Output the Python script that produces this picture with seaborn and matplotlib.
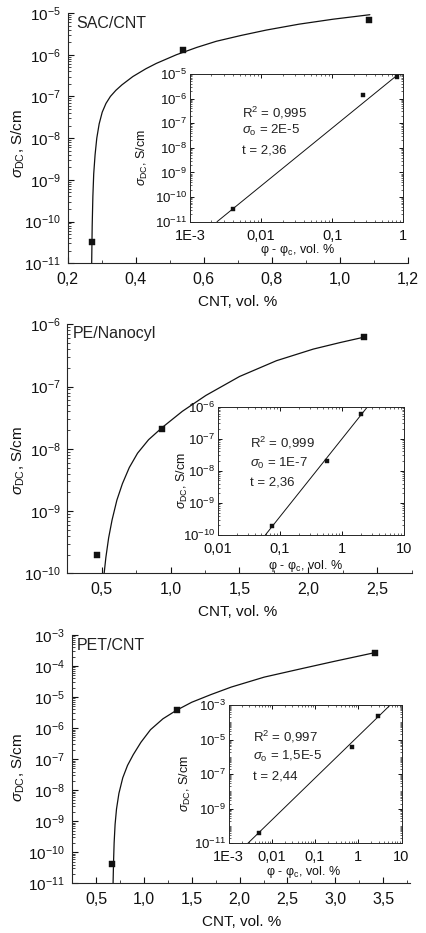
import numpy as np
import pandas as pd
import matplotlib
matplotlib.use("Agg")
import matplotlib.pyplot as plt
import matplotlib.ticker as mticker
import seaborn as sns

# ---------- data ----------
# SAC/CNT
sac_x = [0.271, 0.54, 1.086]
sac_y = [3.2e-11, 1.3e-6, 6.7e-6]
sac_fit_x = [0.271, 0.2725, 0.2745, 0.277, 0.281, 0.286, 0.293, 0.302, 0.313, 0.326, 0.342,
             0.36, 0.392, 0.43, 0.461, 0.52, 0.58, 0.637, 0.71, 0.784, 0.88, 0.98, 1.088]
sac_fit_y = [1e-11, 7.9e-11, 4e-10, 1.4e-9, 4e-9, 1e-8, 2.2e-8, 4.2e-8, 6.8e-8, 1e-7, 1.4e-7,
             1.9e-7, 3e-7, 4.6e-7, 6.2e-7, 1e-6, 1.5e-6, 2.1e-6, 2.9e-6, 3.9e-6, 5.4e-6, 7.1e-6, 9.1e-6]
sac_in_x = [0.004, 0.27, 0.82]
sac_in_y = [3.2e-11, 1.4e-6, 7.4e-6]
sac_in_line_x = [0.0024, 0.86]
sac_in_line_y = [1e-11, 1e-5]
sac_text = ["R$^2$ = 0,995", "$\\sigma_{\\mathrm{o}}$ = 2E-5", "t = 2,36"]

# PE/Nanocyl
pe_x = [0.463, 0.939, 2.402]
pe_y = [2.0e-10, 2.1e-8, 6.2e-7]
pe_fit_x = [0.515, 0.53, 0.55, 0.575, 0.61, 0.65, 0.7, 0.76, 0.84, 0.939, 1.085, 1.256,
            1.5, 1.768, 2.036, 2.232, 2.402]
pe_fit_y = [8.9e-11, 1.8e-10, 3.7e-10, 7.2e-10, 1.5e-9, 2.75e-9, 5e-9, 8.5e-9, 1.4e-8, 2.2e-8,
            4e-8, 7.2e-8, 1.45e-7, 2.6e-7, 4e-7, 5.1e-7, 6.2e-7]
pe_in_x = [0.075, 0.57, 2.05]
pe_in_y = [1.9e-10, 2.0e-8, 5.8e-7]
pe_in_line_x = [0.058, 2.6]
pe_in_line_y = [1e-10, 1e-6]
pe_text = ["R$^2$ = 0,999", "$\\sigma_{\\mathrm{0}}$ = 1E-7", "t = 2,36"]

# PET/CNT
pet_x = [0.672, 1.344, 3.41]
pet_y = [4.1e-11, 3.8e-6, 2.7e-4]
pet_fit_x = [0.679, 0.684, 0.69, 0.70, 0.715, 0.74, 0.78, 0.83, 0.89, 0.97, 1.07, 1.2,
             1.344, 1.5, 1.7, 1.913, 2.258, 2.637, 2.982, 3.412]
pet_fit_y = [1e-11, 5e-11, 2e-10, 7.9e-10, 2.5e-9, 7.9e-9, 2.5e-8, 6.3e-8, 1.4e-7, 3.5e-7,
             8.9e-7, 2e-6, 3.8e-6, 6.8e-6, 1.2e-5, 2.1e-5, 4.4e-5, 8.1e-5, 1.4e-4, 2.7e-4]
pet_in_x = [0.0051, 0.71, 2.87]
pet_in_y = [4.2e-11, 3.6e-6, 2.3e-4]
pet_in_line_x = [0.0028, 5.5]
pet_in_line_y = [1e-11, 1e-3]
pet_text = ["R$^2$ = 0,997", "$\\sigma_{\\mathrm{o}}$ = 1,5E-5", "t = 2,44"]

inset_tick_names = {-3: "1E-3", -2: "0,01", -1: "0,1", 0: "1", 1: "10"}

# ---------- style ----------
sns.set_theme(style="ticks")
plt.rcParams["font.family"] = ["Liberation Sans", "DejaVu Sans"]
plt.rcParams["mathtext.fontset"] = "custom"
plt.rcParams["mathtext.rm"] = "Liberation Sans"
plt.rcParams["mathtext.it"] = "Liberation Sans:italic"
plt.rcParams["mathtext.bf"] = "Liberation Sans:bold"
plt.rcParams["mathtext.sf"] = "Liberation Sans"
plt.rcParams["axes.linewidth"] = 0.8
plt.rcParams["xtick.direction"] = "in"
plt.rcParams["ytick.direction"] = "in"

W, H = 426, 933
fig = plt.figure(figsize=(W / 100, H / 100), dpi=100)
fig.patch.set_facecolor("white")


def make_axes(l, t, r, b):
    ax = fig.add_axes([l / W, 1 - b / H, (r - l) / W, (b - t) / H])
    ax.set_facecolor("white")
    ax._px = (l, t, r, b)
    return ax


def label_at(ax, which, px, py):
    l, t, r, b = ax._px
    cx = (px - l) / (r - l)
    cy = (b - py) / (b - t)
    if which == "x":
        ax.xaxis.set_label_coords(cx, cy)
        ax.xaxis.label.set_va("center")
    else:
        ax.yaxis.set_label_coords(cx, cy)
        ax.yaxis.label.set_va("center")


def text_at(px, py, s, size):
    fig.text(px / W, 1 - py / H, s, fontsize=size, ha="left", va="center", color="#222222")


comma_fmt = mticker.FuncFormatter(lambda v, p: f"{v:.1f}".replace(".", ","))
inset_fmt = mticker.FuncFormatter(
    lambda v, p: inset_tick_names.get(int(round(np.log10(v))), ""))


def main_panel(rect, xs, ys, fx, fy, xlim, ylim, xmaj, xmin, title, tpos, ylab, xlab):
    ax = make_axes(*rect)
    sns.lineplot(x=fx, y=fy, ax=ax, color="#111111", lw=0.9, sort=False, estimator=None)
    sns.scatterplot(x=xs, y=ys, ax=ax, marker="s", s=22, color="#111111",
                    edgecolor="#111111", linewidth=0.3, zorder=3)
    ax.set_yscale("log")
    ax.set_xlim(*xlim)
    ax.set_ylim(*ylim)
    ax.xaxis.set_major_locator(mticker.MultipleLocator(xmaj))
    ax.xaxis.set_minor_locator(mticker.MultipleLocator(xmin))
    ax.xaxis.set_major_formatter(comma_fmt)
    ax.yaxis.set_major_locator(mticker.LogLocator(base=10, numticks=30))
    ax.yaxis.set_minor_locator(mticker.LogLocator(base=10, subs=np.arange(2, 10), numticks=100))
    ax.yaxis.set_major_formatter(mticker.LogFormatterMathtext())
    ax.yaxis.set_minor_formatter(mticker.NullFormatter())
    sns.despine(ax=ax)
    ax.tick_params(which="major", length=4, width=0.8, colors="#111111")
    ax.tick_params(axis="x", labelsize=11.5, pad=6)
    ax.tick_params(axis="y", labelsize=11, pad=5)
    ax.tick_params(which="minor", length=2, width=0.6)
    ax.set_xlabel("CNT, vol. %", fontsize=11, color="#111111")
    ax.set_ylabel("$\\sigma_{\\mathrm{DC}}$, S/cm", fontsize=11, color="#111111")
    label_at(ax, "y", *ylab)
    label_at(ax, "x", *xlab)
    text_at(tpos[0], tpos[1], title, 11.5)
    return ax


def inset_panel(rect, xs, ys, lx, ly, xlim, ylim, ymajor, texts, tx, ty, ylab, xlab):
    ax = make_axes(*rect)
    sns.lineplot(x=lx, y=ly, ax=ax, color="#111111", lw=0.7, sort=False, estimator=None)
    sns.scatterplot(x=xs, y=ys, ax=ax, marker="s", s=10, color="#111111",
                    edgecolor="#111111", linewidth=0.3, zorder=3)
    ax.set_xscale("log")
    ax.set_yscale("log")
    ax.set_xlim(*xlim)
    ax.set_ylim(*ylim)
    ax.xaxis.set_major_locator(mticker.LogLocator(base=10, numticks=20))
    ax.xaxis.set_minor_locator(mticker.LogLocator(base=10, subs=np.arange(2, 10), numticks=100))
    ax.xaxis.set_major_formatter(inset_fmt)
    ax.xaxis.set_minor_formatter(mticker.NullFormatter())
    ax.yaxis.set_major_locator(mticker.FixedLocator(ymajor))
    ax.yaxis.set_minor_locator(mticker.LogLocator(base=10, subs=np.arange(1, 10), numticks=100))
    ax.yaxis.set_major_formatter(mticker.LogFormatterMathtext())
    ax.yaxis.set_minor_formatter(mticker.NullFormatter())
    ax.tick_params(which="both", top=True, right=True)
    ax.tick_params(which="major", length=3, width=0.7, colors="#111111")
    ax.tick_params(axis="x", labelsize=10.5, pad=5)
    ax.tick_params(axis="y", labelsize=9.5, pad=2)
    ax.tick_params(which="minor", length=1.6, width=0.5)
    for sp in ax.spines.values():
        sp.set_linewidth(0.7)
    ax.set_xlabel("φ - φ$_{\\mathrm{c}}$, vol. %", fontsize=9, color="#111111")
    ax.set_ylabel("$\\sigma_{\\mathrm{DC}}$, S/cm", fontsize=9, color="#111111")
    label_at(ax, "y", *ylab)
    label_at(ax, "x", *xlab)
    for s, yy in zip(texts, ty):
        text_at(tx, yy, s, 9.5)
    return ax


# ---------- SAC/CNT ----------
main_panel((67.5, 13, 408, 263.3), sac_x, sac_y, sac_fit_x, sac_fit_y,
           (0.2, 1.2), (1e-11, 1e-5), 0.2, 0.1, "SAC/CNT", (76, 23), (18, 143), (238, 302))
inset_panel((190, 74, 403.3, 221.7), sac_in_x, sac_in_y, sac_in_line_x, sac_in_line_y,
            (1e-3, 1), (1e-11, 1e-5), [10.0 ** k for k in range(-11, -4)],
            sac_text, 242, [113, 130.5, 150.5], (142, 157), (297, 250))

# ---------- PE/Nanocyl ----------
main_panel((67.3, 324.3, 411.7, 573.3), pe_x, pe_y, pe_fit_x, pe_fit_y,
           (0.25, 2.75), (1e-10, 1e-6), 0.5, 0.25, "PE/Nanocyl", (73, 333.5), (18, 460), (238, 611.7))
inset_panel((218, 406.5, 404, 535), pe_in_x, pe_in_y, pe_in_line_x, pe_in_line_y,
            (0.01, 10), (1e-10, 1e-6), [10.0 ** k for k in range(-10, -5)],
            pe_text, 250, [443.3, 463.3, 482.7], (182, 480), (305, 566))

# ---------- PET/CNT ----------
main_panel((72, 635, 410, 883.3), pet_x, pet_y, pet_fit_x, pet_fit_y,
           (0.25, 3.78), (1e-11, 1e-3), 0.5, 0.25, "PET/CNT", (77, 645), (18, 767), (242, 921.7))
inset_panel((228.5, 705, 401.5, 843.3), pet_in_x, pet_in_y, pet_in_line_x, pet_in_line_y,
            (1e-3, 10), (1e-11, 1e-3), [10.0 ** k for k in range(-11, -2, 2)],
            pet_text, 253, [736.7, 756.7, 776.7], (185, 783), (303, 872))

fig.savefig("out.png", dpi=100, facecolor="white")
